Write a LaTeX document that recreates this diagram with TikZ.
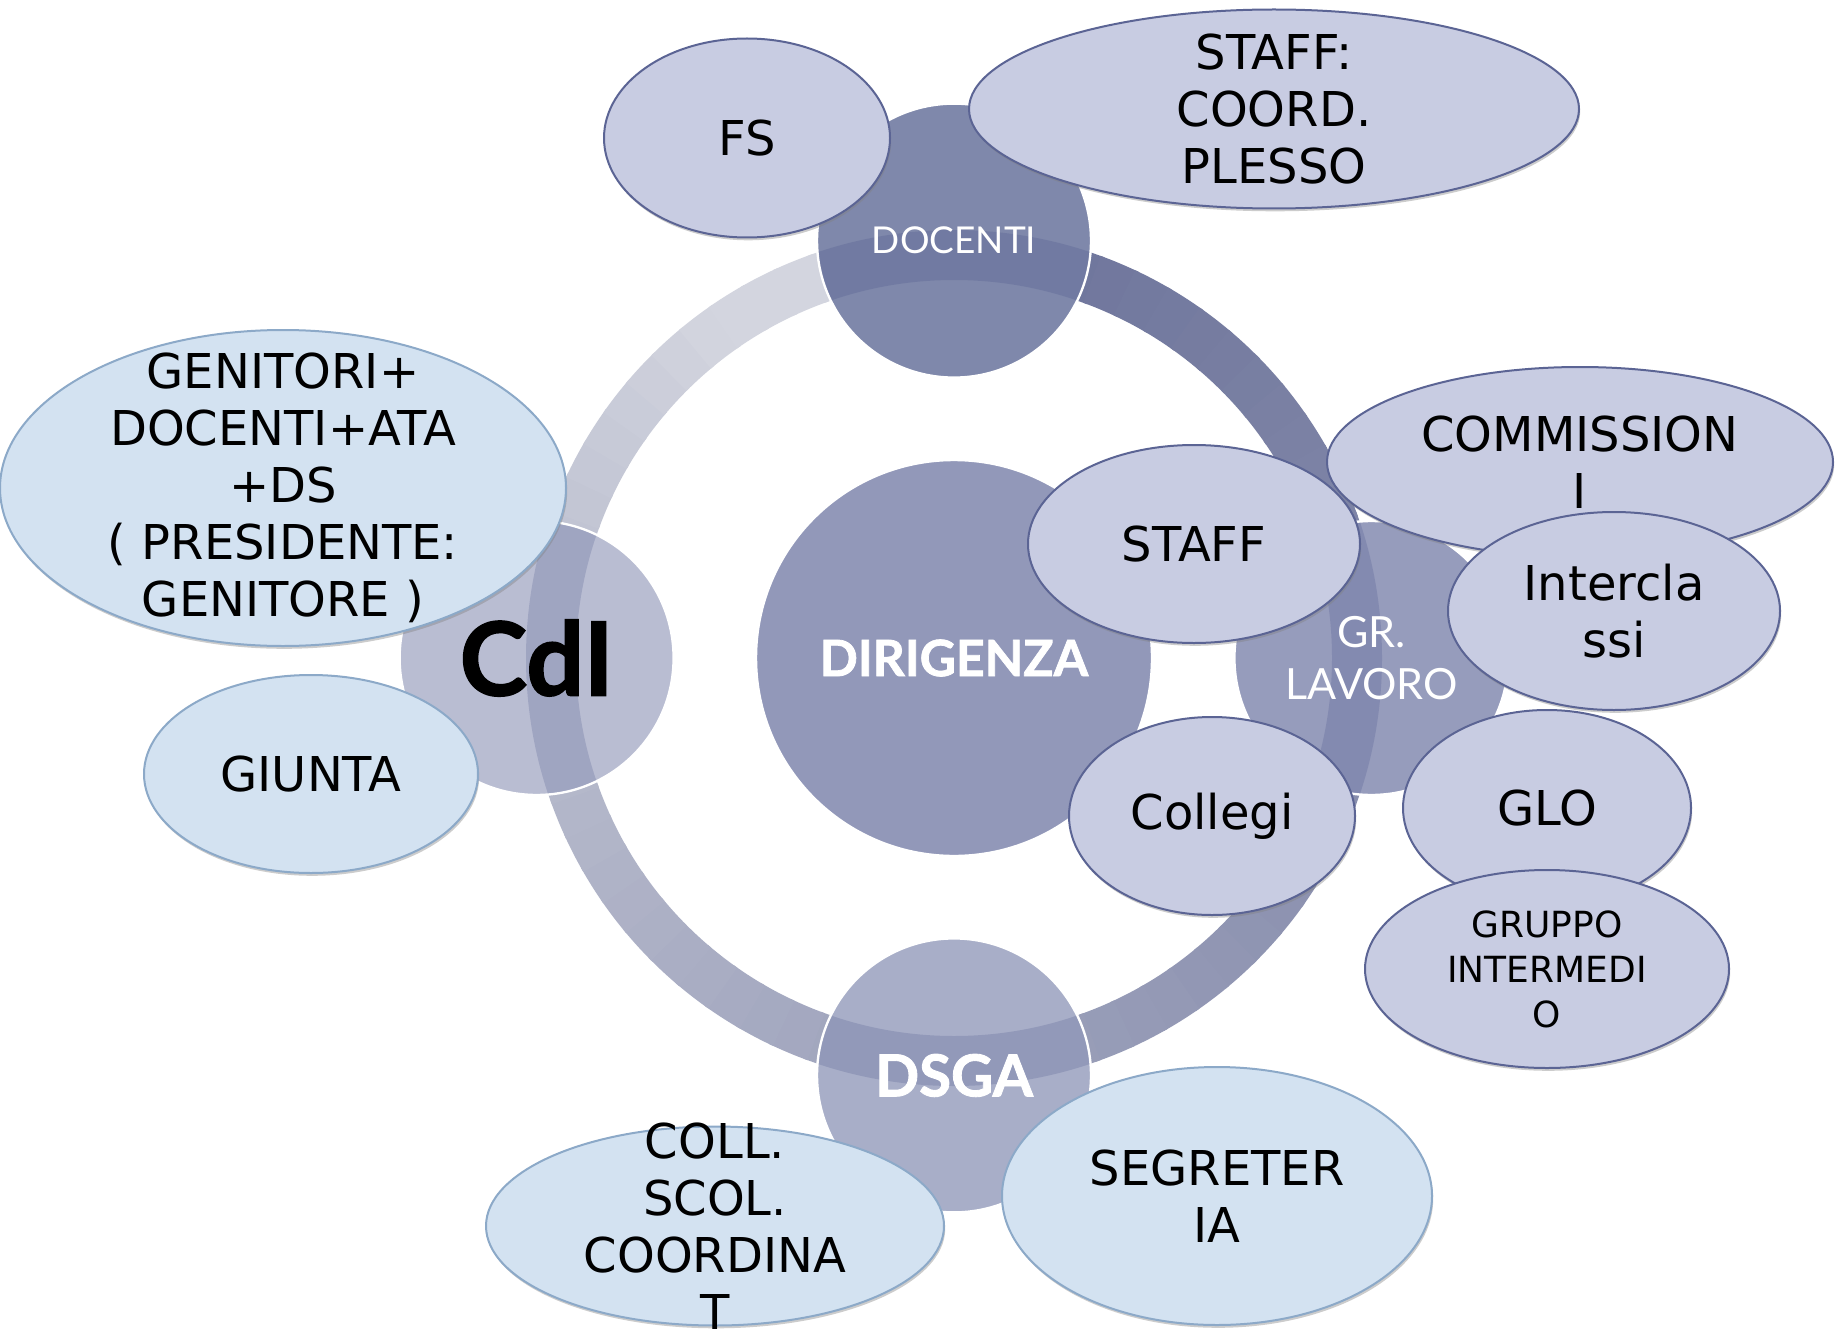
\documentclass[tikz,border=0pt]{standalone}
\usepackage{fontspec}
\setmainfont{DejaVu Sans}
\newfontfamily\gillfont[BoldFeatures={FakeBold=1.5}]{Lato}
\usetikzlibrary{positioning,shapes.geometric,shadows}
\definecolor{ringdark}{HTML}{6C739A}
\definecolor{ringlight}{HTML}{D3D5DF}
\definecolor{bandblue}{HTML}{3A4680}
\definecolor{docfill}{HTML}{7F88AB}
\definecolor{cdlfill}{HTML}{B9BDD2}
\definecolor{grfill}{HTML}{969CBC}
\definecolor{dsgafill}{HTML}{A8AEC8}
\definecolor{dirfill}{HTML}{9298B9}
\definecolor{lavfill}{HTML}{C8CCE2}
\definecolor{lavline}{HTML}{5B6494}
\definecolor{skyfill}{HTML}{D3E2F1}
\definecolor{skyline}{HTML}{8CA9C8}
\tikzset{
  disc/.style={circle, draw=white, line width=1.2pt, minimum size=137pt, inner sep=0pt, text=white, align=center},
  disctext/.style={inner sep=0pt, text=white, align=center},
  oval/.style={ellipse, line width=1pt, inner sep=0pt, drop shadow={shadow xshift=0.6pt, shadow yshift=-1.4pt, opacity=0.4}},
  lav/.style={oval, fill=lavfill, draw=lavline},
  sky/.style={oval, fill=skyfill, draw=skyline},
  lbl/.style={inner sep=0pt, align=center, font=\fontsize{24}{28.5}\selectfont},
  ringseg/.style={line width=25pt},
  bandshade/.style={line width=25pt, draw=bandblue, draw opacity=0.2}
}
\begin{document}
\begin{tikzpicture}[x=0.5pt, y=-0.5pt, node distance=40pt]
\path[use as bounding box, fill=white] (0,0) rectangle (1835,1332);

\node[disc, minimum size=198pt, fill=dirfill, font=\gillfont\bfseries\fontsize{25}{30}\selectfont] (dir) at (954,658) {DIRIGENZA};

\foreach \i in {0,...,71}{
  \pgfmathsetmacro{\p}{100*max(0.001,1-(\i+0.5)/64.8)^0.8}
  \colorlet{segcol}{ringdark!\p!ringlight}
  \draw[ringseg, segcol] (dir.center) ++({90-5*\i}:201.5pt) arc[start angle=90-5*\i, end angle=84.4-5*\i, radius=201.5pt];
}

\node[disc, fill=docfill] (doc) [above=of dir] {};
\node[disc, fill=cdlfill] (cdl) [left=of dir] {};
\node[disc, fill=grfill] (gr) [right=of dir] {};
\node[disc, fill=dsgafill] (dsga) [below=of dir] {};

\foreach \c in {doc,cdl,gr,dsga}{
  \begin{scope}
    \clip (\c.center) circle[radius=67.9pt];
    \draw[bandshade] (dir.center) circle[radius=201.5pt];
  \end{scope}
}

\node[disctext, font=\gillfont\fontsize{18.5}{22}\selectfont] (doc-t) at (doc) {DOCENTI};
\node[disctext, text=black, font=\gillfont\bfseries\fontsize{51}{56}\selectfont] (cdl-t) at (cdl) {CdI};
\node[disctext, font=\gillfont\fontsize{21.5}{26}\selectfont] (gr-t) at (gr) {GR.\\LAVORO};
\node[disctext, font=\gillfont\bfseries\fontsize{29}{32}\selectfont] (dsga-t) at (dsga) {DSGA};

\node[lav, minimum width=143pt, minimum height=99.5pt] (fs) at (747,138) {};
\node[lbl] (fs-t) at (fs) {FS};
\node[lav, minimum width=305pt, minimum height=99.5pt] (coord) at (1274,109) {};
\node[lbl] (coord-t) at (coord) {STAFF:\\COORD.\\PLESSO};
\node[sky, minimum width=283pt, minimum height=158pt] (genit) at (283,488) {};
\node[lbl] (genit-t) at (genit) {GENITORI+\\DOCENTI+ATA\\+DS\\( PRESIDENTE:\\GENITORE )};
\node[sky, minimum width=167pt, minimum height=99pt] (giunta) at (311,774) {};
\node[lbl] (giunta-t) at (giunta) {GIUNTA};
\node[lav, minimum width=166pt, minimum height=99pt] (staff) at (1194,544) {};
\node[lbl] (staff-t) at (staff) {STAFF};
\node[lav, minimum width=253pt, minimum height=95pt] (comm) at (1580,462) {};
\node[lbl] (comm-t) at (comm) {COMMISSION\\I};
\node[lav, minimum width=166pt, minimum height=99pt] (inter) at (1614,611) {};
\node[lbl] (inter-t) at (inter) {Intercla\\ssi};
\node[lav, minimum width=143pt, minimum height=99pt] (coll) at (1212,816) {};
\node[lbl] (coll-t) at (coll) {Collegi};
\node[lav, minimum width=144pt, minimum height=98pt] (glo) at (1547,808) {};
\node[lbl] (glo-t) at (glo) {GLO};
\node[lav, minimum width=182pt, minimum height=99pt] (grup) at (1547,969) {};
\node[lbl, font=\fontsize{18}{22.5}\selectfont] (grup-t) at (grup) {GRUPPO\\INTERMEDI\\O};
\node[sky, minimum width=229pt, minimum height=99.5pt] (scol) at (715,1226) {};
\node[lbl] (scol-t) at (scol) {COLL.\\SCOL.\\COORDINA\\T};
\node[sky, minimum width=215pt, minimum height=129pt] (segr) at (1217,1196) {};
\node[lbl] (segr-t) at (segr) {SEGRETER\\IA};
\end{tikzpicture}
\end{document}
